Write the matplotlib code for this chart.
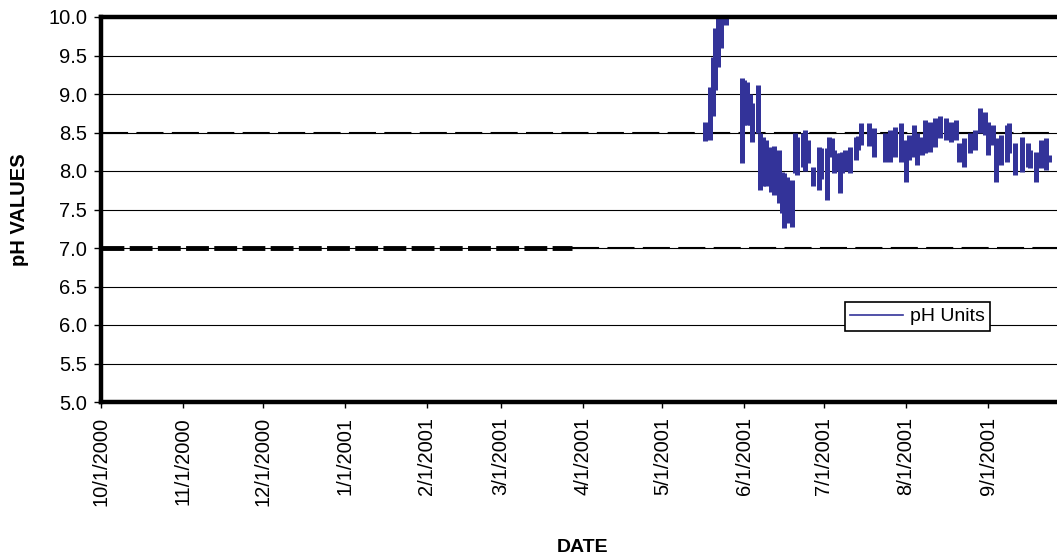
import matplotlib
matplotlib.use("Agg")
import matplotlib.pyplot as plt
from matplotlib.lines import Line2D
import datetime as dt

plt.rcParams['font.family'] = ['Liberation Sans', 'DejaVu Sans']

# ---- data ----
dates = ["2001-05-17", "2001-05-19", "2001-05-20", "2001-05-21", "2001-05-22", "2001-05-23",
         "2001-05-25", "2001-05-31", "2001-06-01", "2001-06-02", "2001-06-03", "2001-06-04",
         "2001-06-06", "2001-06-07", "2001-06-08", "2001-06-09", "2001-06-11", "2001-06-12",
         "2001-06-14", "2001-06-15", "2001-06-16", "2001-06-17", "2001-06-19", "2001-06-20",
         "2001-06-21", "2001-06-23", "2001-06-24", "2001-06-25", "2001-06-27", "2001-06-29",
         "2001-06-30", "2001-07-02", "2001-07-03", "2001-07-04", "2001-07-05", "2001-07-06",
         "2001-07-07", "2001-07-08", "2001-07-09", "2001-07-11", "2001-07-13", "2001-07-14",
         "2001-07-15", "2001-07-18", "2001-07-20", "2001-07-24", "2001-07-26", "2001-07-28",
         "2001-07-30", "2001-08-01", "2001-08-02", "2001-08-04", "2001-08-05", "2001-08-07",
         "2001-08-08", "2001-08-10", "2001-08-12", "2001-08-14", "2001-08-16", "2001-08-18",
         "2001-08-20", "2001-08-21", "2001-08-23", "2001-08-25", "2001-08-27", "2001-08-29",
         "2001-08-31", "2001-09-01", "2001-09-03", "2001-09-04", "2001-09-06", "2001-09-08",
         "2001-09-09", "2001-09-11", "2001-09-14", "2001-09-16", "2001-09-17", "2001-09-19",
         "2001-09-21", "2001-09-23", "2001-09-24"]
ph_low = [8.39, 8.40, 8.71, 9.05, 9.35, 9.60,
          9.90, 8.10, 8.60, 8.60, 8.60, 8.38,
          8.50, 7.75, 7.80, 7.80, 7.73, 7.69,
          7.58, 7.45, 7.26, 7.32, 7.27, 7.97,
          7.95, 8.05, 8.00, 8.10, 7.80, 7.75,
          7.90, 7.62, 8.27, 8.18, 7.97, 8.00,
          7.71, 7.97, 8.00, 7.97, 8.14, 8.27,
          8.34, 8.33, 8.18, 8.12, 8.12, 8.18,
          8.12, 7.86, 8.14, 8.18, 8.08, 8.21,
          8.23, 8.25, 8.31, 8.43, 8.40, 8.38,
          8.40, 8.12, 8.05, 8.23, 8.27, 8.49,
          8.47, 8.21, 8.34, 7.86, 8.08, 8.12,
          8.23, 7.95, 7.99, 8.05, 8.04, 7.86,
          8.04, 8.01, 8.12]
ph_high = [8.64, 9.09, 9.48, 9.86, 10.0, 10.0,
           10.0, 9.21, 9.18, 9.15, 9.00, 8.88,
           9.12, 8.50, 8.44, 8.40, 8.31, 8.33,
           8.27, 7.99, 7.97, 7.92, 7.88, 8.50,
           8.44, 8.49, 8.53, 8.40, 8.05, 8.31,
           8.30, 8.30, 8.44, 8.43, 8.27, 8.23,
           8.23, 8.25, 8.27, 8.31, 8.44, 8.45,
           8.62, 8.62, 8.56, 8.50, 8.53, 8.57,
           8.62, 8.40, 8.47, 8.60, 8.50, 8.44,
           8.66, 8.64, 8.69, 8.71, 8.69, 8.64,
           8.66, 8.36, 8.43, 8.49, 8.53, 8.82,
           8.77, 8.64, 8.60, 8.43, 8.47, 8.60,
           8.62, 8.36, 8.44, 8.36, 8.27, 8.25,
           8.40, 8.43, 8.21]

tick_dates = ["2000-10-01", "2000-11-01", "2000-12-01", "2001-01-01", "2001-02-01", "2001-03-01",
              "2001-04-01", "2001-05-01", "2001-06-01", "2001-07-01", "2001-08-01", "2001-09-01"]
tick_labels = ["10/1/2000", "11/1/2000", "12/1/2000", "1/1/2001", "2/1/2001", "3/1/2001",
               "4/1/2001", "5/1/2001", "6/1/2001", "7/1/2001", "8/1/2001", "9/1/2001"]
y_ticks = [5.0, 5.5, 6.0, 6.5, 7.0, 7.5, 8.0, 8.5, 9.0, 9.5, 10.0]

upper_limit = 8.5
lower_limit = 7.0
lower_limit_old_end = "2001-03-28"

x_start = "2000-10-01"
x_end = "2001-10-01"

def d(s):
    return dt.datetime.strptime(s, "%Y-%m-%d")

xd = [d(s) for s in dates]

W, H = 1057, 558
fig = plt.figure(figsize=(W / 100, H / 100), dpi=100)
ax_left = 101 / W
ax_bottom = 1 - 402 / H
ax_top = 1 - 17 / H
ax_right_px = 1067.5
ax = fig.add_axes([ax_left, ax_bottom, (ax_right_px - 101) / W, ax_top - ax_bottom])

ax.set_xlim(d(x_start), d(x_end))
ax.set_ylim(5.0, 10.0)

# gridlines
for yv in y_ticks:
    ax.axhline(yv, color='black', lw=0.8, zorder=1)

# limit lines
ax.axhline(upper_limit, color='black', lw=1.5, linestyle=(0, (13, 4)), zorder=2)
ax.plot([d(x_start), d(lower_limit_old_end)], [lower_limit, lower_limit], color='black',
        lw=3.5, linestyle=(0, (4.7, 1.1)), zorder=2)
ax.plot([d(lower_limit_old_end), d(x_end)], [lower_limit, lower_limit], color='black',
        lw=1.5, linestyle=(0, (13, 4)), zorder=2)

# data
ax.vlines(xd, ph_low, ph_high, colors='#333399', linewidth=3.6, zorder=3)

# spines
for s in ['left', 'top', 'bottom']:
    ax.spines[s].set_linewidth(3.2)
    ax.spines[s].set_zorder(5)
ax.spines['right'].set_visible(False)

ax.set_yticks(y_ticks)
ax.set_yticklabels([f"{v:.1f}" for v in y_ticks])
ax.set_xticks([d(s) for s in tick_dates])
ax.set_xticklabels(tick_labels, rotation=90, va='top', ha='center')
ax.tick_params(axis='y', direction='out', length=5, width=1, labelsize=14.5, pad=5)
ax.tick_params(axis='x', direction='out', length=4, width=1, labelsize=14.5, pad=7)

fig.text(20 / W, 1 - 210 / H, "pH VALUES", rotation=90, ha='center', va='center',
         fontsize=14.5, fontweight='bold')
fig.text(583 / W, 1 - 548 / H, "DATE", ha='center', va='center', fontsize=14, fontweight='bold')

handle = Line2D([0], [0], color='#333399', lw=1.2)
leg = fig.legend([handle], ["pH Units"], loc='center',
                 bbox_to_anchor=(917.5 / W, 1 - 316.5 / H), fontsize=14,
                 frameon=True, fancybox=False, framealpha=1, edgecolor='black',
                 handlelength=2.7, handletextpad=0.35, borderpad=0.3, borderaxespad=0)
leg.get_frame().set_linewidth(1.2)

fig.savefig("out.png", dpi=100)
